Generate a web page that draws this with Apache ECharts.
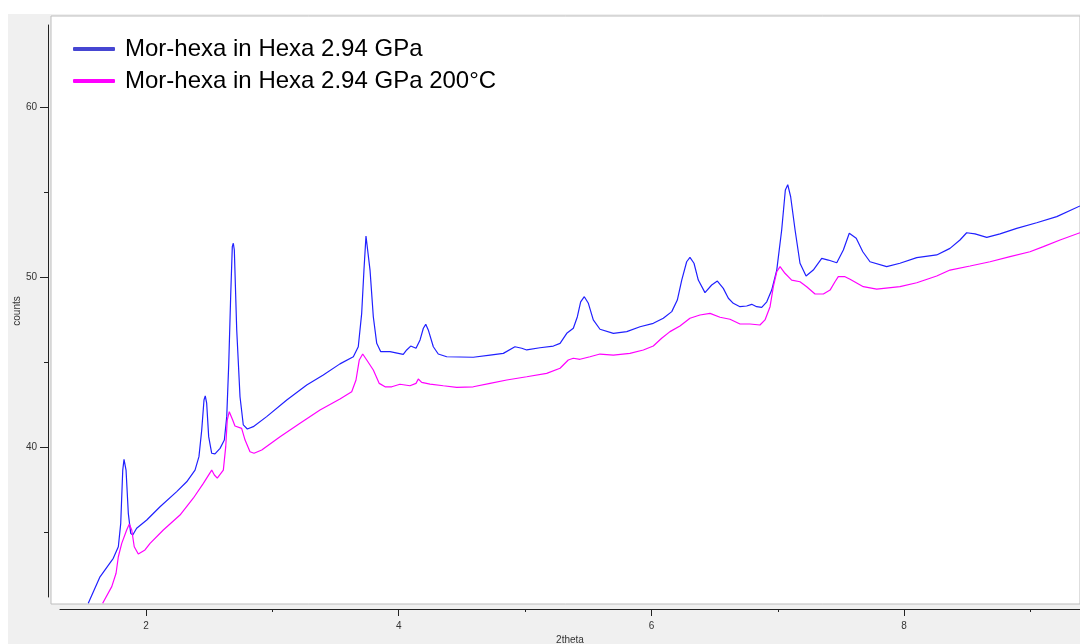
<!DOCTYPE html>
<html>
<head>
<meta charset="utf-8">
<script src="https://cdn.jsdelivr.net/npm/echarts@6/dist/echarts.min.js"></script>
<style>
  body { margin: 0; background: #fff; }
  #panel { position: absolute; left: 8px; top: 14px; width: 1072px; height: 630px; background: #f0f0f0; }
  #chart { position: absolute; left: 0; top: 0; width: 1080px; height: 644px; }
</style>
</head>
<body>
<div id="panel"></div>
<div id="chart"></div>
<script>
// pattern 1: as pressed, [2theta, counts]
const pressed = [
  [1.543,30.79],[1.636,32.35],[1.741,33.44],[1.781,34.12],[1.800,35.50],[1.816,38.64],[1.826,39.27],
  [1.842,38.64],[1.860,36.09],[1.879,34.91],[1.895,34.81],[1.926,35.21],[2.006,35.70],[2.111,36.48],
  [2.243,37.37],[2.322,37.95],[2.388,38.64],[2.419,39.43],[2.441,41.00],[2.459,42.77],[2.469,43.01],
  [2.480,42.59],[2.496,40.61],[2.520,39.63],[2.546,39.59],[2.586,39.92],[2.620,40.41],[2.639,41.79],
  [2.655,44.93],[2.670,48.86],[2.683,51.81],[2.691,52.01],[2.699,51.61],[2.718,46.90],[2.744,42.96],
  [2.770,41.30],[2.802,41.06],[2.849,41.20],[2.955,41.79],[3.114,42.77],[3.272,43.65],[3.403,44.24],
  [3.535,44.90],[3.641,45.32],[3.680,45.91],[3.707,47.88],[3.725,50.43],[3.741,52.44],[3.755,52.40],
  [3.773,50.43],[3.799,47.68],[3.826,46.11],[3.858,45.62],[3.931,45.62],[3.997,45.52],[4.036,45.46],
  [4.063,45.72],[4.095,45.95],[4.137,45.82],[4.169,46.31],[4.195,47.00],[4.214,47.23],[4.234,46.90],
  [4.274,45.91],[4.313,45.48],[4.380,45.32],[4.590,45.29],[4.723,45.42],[4.828,45.52],[4.920,45.91],
  [4.974,45.82],[5.013,45.72],[5.118,45.85],[5.224,45.95],[5.277,46.11],[5.330,46.70],[5.382,47.00],
  [5.414,47.68],[5.440,48.56],[5.469,48.86],[5.501,48.47],[5.540,47.49],[5.593,46.94],[5.699,46.70],
  [5.805,46.80],[5.910,47.09],[6.015,47.29],[6.094,47.59],[6.161,47.98],[6.205,48.66],[6.240,49.84],
  [6.279,50.92],[6.305,51.18],[6.337,50.83],[6.371,49.84],[6.424,49.10],[6.477,49.55],[6.522,49.78],
  [6.569,49.35],[6.609,48.77],[6.648,48.47],[6.701,48.27],[6.754,48.31],[6.794,48.41],[6.833,48.27],
  [6.873,48.23],[6.913,48.56],[6.952,49.25],[6.992,50.43],[7.031,52.79],[7.060,55.15],[7.079,55.46],
  [7.102,54.75],[7.137,52.79],[7.176,50.83],[7.224,50.08],[7.281,50.43],[7.348,51.12],[7.400,51.02],
  [7.467,50.86],[7.519,51.61],[7.566,52.60],[7.621,52.30],[7.673,51.51],[7.730,50.92],[7.862,50.63],
  [7.967,50.83],[8.100,51.16],[8.258,51.32],[8.363,51.71],[8.442,52.20],[8.495,52.63],[8.561,52.56],
  [8.654,52.36],[8.759,52.56],[8.891,52.89],[9.049,53.22],[9.208,53.58],[9.392,54.21]
];

// pattern 2: after 200 °C
const heated = [
  [1.657,30.79],[1.729,31.77],[1.763,32.56],[1.781,33.53],[1.808,34.32],[1.847,35.11],[1.868,35.46],
  [1.887,35.11],[1.907,34.12],[1.939,33.69],[1.992,33.93],[2.032,34.32],[2.137,35.11],[2.269,35.99],
  [2.374,36.98],[2.454,37.86],[2.520,38.64],[2.541,38.35],[2.564,38.16],[2.612,38.64],[2.631,40.02],
  [2.643,41.59],[2.659,42.08],[2.686,41.59],[2.704,41.24],[2.757,41.10],[2.784,40.41],[2.823,39.72],
  [2.855,39.63],[2.916,39.82],[3.061,40.61],[3.219,41.40],[3.377,42.18],[3.535,42.83],[3.628,43.26],
  [3.662,43.95],[3.688,45.13],[3.715,45.48],[3.747,45.13],[3.799,44.54],[3.846,43.75],[3.892,43.55],
  [3.945,43.55],[4.010,43.70],[4.089,43.61],[4.137,43.75],[4.155,44.01],[4.182,43.81],[4.248,43.71],
  [4.353,43.61],[4.459,43.52],[4.590,43.55],[4.723,43.75],[4.855,43.95],[5.013,44.14],[5.171,44.34],
  [5.277,44.64],[5.342,45.13],[5.382,45.23],[5.435,45.17],[5.514,45.32],[5.593,45.48],[5.699,45.42],
  [5.830,45.52],[5.936,45.72],[6.015,45.95],[6.081,46.41],[6.147,46.80],[6.226,47.13],[6.305,47.59],
  [6.384,47.78],[6.464,47.88],[6.543,47.65],[6.622,47.53],[6.701,47.25],[6.780,47.25],[6.859,47.19],
  [6.899,47.49],[6.939,48.27],[6.965,49.45],[6.992,50.33],[7.018,50.63],[7.057,50.24],[7.110,49.84],
  [7.176,49.74],[7.229,49.45],[7.295,49.02],[7.361,49.02],[7.414,49.25],[7.453,49.74],[7.479,50.04],
  [7.532,50.04],[7.572,49.89],[7.677,49.45],[7.783,49.31],[7.967,49.45],[8.100,49.68],[8.258,50.08],
  [8.363,50.43],[8.522,50.67],[8.680,50.92],[8.838,51.22],[8.996,51.51],[9.102,51.81],[9.234,52.20],
  [9.392,52.63]
];

const seriesNames = ['Mor-hexa in Hexa 2.94 GPa', 'Mor-hexa in Hexa 2.94 GPa 200°C'];
const xMajorTicks = [2, 4, 6, 8];
const xMinorTicks = [3, 5, 7, 9];
const yMajorTicks = [40, 50, 60];
const yMinorTicks = [35, 45, 55];

const axisColor = '#222';
const labelFont = { color: '#333', fontSize: 10, fontFamily: 'Liberation Sans' };

let myChart = echarts.init(document.getElementById('chart'));
myChart.setOption({
  animation: false,
  textStyle: { fontFamily: 'Liberation Sans' },
  legend: {
    orient: 'vertical',
    left: 68,
    top: 32,
    itemWidth: 42,
    itemHeight: 4,
    itemGap: 8,
    icon: 'roundRect',
    textStyle: { fontSize: 24, lineHeight: 24, color: '#000', padding: [0, 0, 0, 5] },
    data: [
      { name: seriesNames[0], itemStyle: { color: '#4646d2' } },
      { name: seriesNames[1], itemStyle: { color: '#ff00ff' } }
    ]
  },
  grid: [
    // white data area
    { left: 51, right: 0, top: 16, bottom: 40, outerBoundsMode: 'none',
      show: true, backgroundColor: '#fff', borderColor: '#bdbdbd', borderWidth: 1 },
    // axes frame (drawn a bit outside the data area)
    { left: 60, right: 0, top: 25, bottom: 47, outerBoundsMode: 'none' }
  ],
  xAxis: [
    { type: 'value', gridIndex: 0, min: 1.2481, max: 9.392, show: false },
    {
      type: 'value', gridIndex: 1, position: 'bottom', min: 1.3194, max: 9.392, offset: 12,
      name: '2theta', nameLocation: 'middle', nameGap: 26, nameMoveOverlap: false,
      nameTextStyle: { color: '#333', fontSize: 10 },
      axisLine: { show: true, lineStyle: { color: axisColor, width: 1 } },
      axisTick: { show: true, length: 7, customValues: xMajorTicks, lineStyle: { color: axisColor } },
      axisLabel: Object.assign({ margin: 12, customValues: xMajorTicks }, labelFont),
      splitLine: { show: false }
    },
    {
      type: 'value', gridIndex: 1, position: 'bottom', min: 1.3194, max: 9.392, offset: 12,
      axisLine: { show: false },
      axisTick: { show: true, length: 3, customValues: xMinorTicks, lineStyle: { color: axisColor } },
      axisLabel: { show: false },
      splitLine: { show: false }
    }
  ],
  yAxis: [
    { type: 'value', gridIndex: 0, min: 30.746, max: 65.405, show: false },
    {
      type: 'value', gridIndex: 1, position: 'left', min: 31.158, max: 64.875, offset: 12,
      name: 'counts', nameLocation: 'middle', nameGap: 26, nameRotate: 90, nameMoveOverlap: false,
      nameTextStyle: { color: '#333', fontSize: 10 },
      axisLine: { show: true, lineStyle: { color: axisColor, width: 1 } },
      axisTick: { show: true, length: 8, customValues: yMajorTicks, lineStyle: { color: axisColor } },
      axisLabel: Object.assign({ margin: 11, customValues: yMajorTicks }, labelFont),
      splitLine: { show: false }
    },
    {
      type: 'value', gridIndex: 1, position: 'left', min: 31.158, max: 64.875, offset: 12,
      axisLine: { show: false },
      axisTick: { show: true, length: 4, customValues: yMinorTicks, lineStyle: { color: axisColor } },
      axisLabel: { show: false },
      splitLine: { show: false }
    }
  ],
  series: [
    {
      name: seriesNames[0], type: 'line', xAxisIndex: 0, yAxisIndex: 0,
      data: pressed, showSymbol: false,
      itemStyle: { color: '#2020ff' },
      lineStyle: { color: '#2020ff', width: 1.2 }
    },
    {
      name: seriesNames[1], type: 'line', xAxisIndex: 0, yAxisIndex: 0,
      data: heated, showSymbol: false,
      itemStyle: { color: '#ff00ff' },
      lineStyle: { color: '#ff00ff', width: 1.2 }
    }
  ]
});
</script>
</body>
</html>
